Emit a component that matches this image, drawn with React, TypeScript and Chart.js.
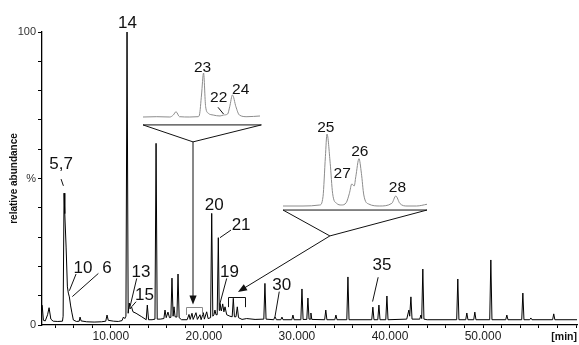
import React, { useEffect, useRef } from 'react';
import { Chart, registerables } from 'chart.js';

Chart.register(...registerables);

// ---------------- DATA ----------------
// x tick labels (retention time, min)
const xTickValues = [10, 20, 30, 40, 50];
const xTickLabels = ['10.000', '20.000', '30.000', '40.000', '50.000'];
// y tick labels
const yTickValues = [0, 50, 100];
const yTickLabels = ['0', '%', '100'];

// main chromatogram: [time (min), relative abundance (%)]
const mainTrace: [number, number][] = [
  [2.62, 6.8], [2.75, 1.6], [2.95, 1.4], [3.2, 3.5], [3.36, 5.9], [3.55, 2.0], [3.8, 1.3],
  [4.3, 1.2], [4.8, 1.3], [4.87, 3.0], [4.97, 45.0], [5.05, 38.0], [5.19, 26.6], [5.33, 13.0],
  [5.43, 10.9], [5.54, 9.6], [5.68, 6.5], [5.8, 4.4], [5.97, 1.7], [6.3, 1.2], [6.6, 1.3],
  [6.69, 2.7], [6.8, 1.4], [7.4, 1.1], [8.2, 1.0], [9.0, 1.1], [9.45, 1.3], [9.59, 3.4],
  [9.72, 1.6], [10.3, 1.3], [10.8, 1.2], [11.2, 1.5], [11.35, 2.7], [11.5, 2.2], [11.62, 3.0],
  [11.74, 100], [11.86, 4.0], [11.98, 7.5], [12.06, 5.5], [12.22, 6.2], [12.38, 4.5],
  [12.71, 4.0], [13.32, 2.8], [13.8, 1.8], [13.92, 6.8], [14.05, 1.8], [14.43, 1.8],
  [14.74, 2.0], [14.86, 62.0], [14.98, 2.0], [15.3, 2.0], [15.7, 2.2], [15.82, 5.1],
  [15.95, 2.5], [16.14, 4.4], [16.3, 2.5], [16.45, 2.6], [16.57, 16.0], [16.69, 3.0],
  [16.79, 6.2], [16.9, 2.8], [17.1, 2.7], [17.22, 17.4], [17.34, 2.5], [17.6, 1.8],
  [18.2, 1.8], [18.4, 3.6], [18.52, 1.9], [18.72, 4.0], [18.85, 1.9], [19.15, 4.2],
  [19.3, 1.9], [19.58, 3.5], [19.7, 1.8], [19.94, 4.2], [20.05, 2.0], [20.3, 4.5],
  [20.45, 2.2], [20.72, 2.5], [20.84, 38.1], [20.96, 3.0], [21.08, 3.5], [21.19, 5.1],
  [21.3, 3.5], [21.43, 3.5], [21.55, 29.8], [21.65, 5.0], [21.73, 7.4], [21.88, 4.8],
  [22.02, 7.2], [22.15, 4.5], [22.27, 6.2], [22.45, 3.5], [22.8, 3.0], [23.04, 2.8],
  [23.16, 9.1], [23.28, 2.8], [23.45, 2.8], [23.59, 6.2], [23.72, 2.5], [24.1, 1.9],
  [24.6, 2.2], [25.5, 1.9], [26.44, 2.0], [26.56, 14.2], [26.68, 2.0], [27.5, 1.8],
  [27.64, 2.8], [27.8, 1.8], [28.27, 1.8], [28.39, 2.7], [28.51, 1.8], [29.45, 1.8],
  [29.57, 3.4], [29.69, 1.8], [30.42, 1.8], [30.54, 12.3], [30.66, 1.9], [31.06, 1.9],
  [31.18, 9.2], [31.3, 2.0], [31.42, 2.0], [31.5, 4.1], [31.6, 1.9], [32.98, 1.8],
  [33.1, 5.1], [33.22, 1.8], [34.07, 1.8], [34.19, 3.4], [34.31, 1.8], [35.36, 1.8],
  [35.48, 16.4], [35.6, 1.8], [38.04, 1.8], [38.16, 6.1], [38.28, 1.8], [38.69, 1.8],
  [38.81, 6.8], [38.93, 1.8], [39.55, 1.8], [39.67, 9.9], [39.79, 1.8], [41.8, 2.0],
  [42.03, 5.1], [42.12, 3.0], [42.25, 9.6], [42.37, 2.0], [43.2, 2.0], [43.32, 3.4],
  [43.41, 2.2], [43.53, 19.1], [43.65, 2.0], [44.0, 1.8], [47.17, 1.8], [47.29, 15.7],
  [47.41, 1.8], [48.14, 1.8], [48.26, 4.1], [48.38, 1.8], [49.0, 1.8], [49.12, 4.4],
  [49.24, 1.8], [50.72, 1.8], [50.84, 22.2], [50.96, 1.8], [52.44, 1.8], [52.56, 3.4],
  [52.68, 1.8], [54.16, 1.8], [54.28, 10.9], [54.4, 1.8], [55.02, 1.8], [55.14, 2.4],
  [55.26, 1.8], [57.48, 1.8], [57.6, 3.8], [57.72, 1.8], [60.1, 1.8],
];

// inset 1 (magnified 18.1-19.8 min), abundance relative to peak 23
const inset1Trace: [number, number][] = [
  [18.1, 0], [18.3, 0.7], [18.49, 0], [18.54, 4.5], [18.58, 12], [18.63, 0.7], [18.78, 0],
  [18.9, 0.7], [18.92, 4.5], [18.95, 50], [18.98, 100], [19.01, 23.4], [19.05, 8.4],
  [19.12, 4.5], [19.22, 2.3], [19.27, 4.5], [19.33, 6.8], [19.36, 23.4], [19.4, 50],
  [19.45, 23.4], [19.5, 4.5], [19.61, 0.7], [19.8, 2.3],
];

// inset 2 (magnified 22.6-24.4 min), abundance relative to peak 25
const inset2Trace: [number, number][] = [
  [22.6, 0], [22.85, 0], [23.06, 1.4], [23.1, 12.9], [23.13, 68.5], [23.15, 100],
  [23.19, 59.3], [23.22, 17.6], [23.27, 3.7], [23.33, 1.4], [23.39, 4.6], [23.43, 17.6],
  [23.46, 30.6], [23.49, 27.8], [23.51, 40.7], [23.55, 65.7], [23.58, 45.4], [23.61, 15.3],
  [23.67, 2.8], [23.81, 0], [23.96, 3.7], [24.01, 13.9], [24.06, 3.7], [24.15, 0],
  [24.27, 0], [24.4, 2.4],
];

// ---------------- LAYOUT ----------------
const AREA = { left: 42, right: 577, top: 32, bottom: 325 };
const X_MIN = 2.6;
const X_MAX = 60.1;
const FONT = "'Liberation Sans', Arial, sans-serif";

// inset boxes: data (t0,t1,v0,v1) shown at pixels (px0,px1,py0,py1)
const INSET1 = { t0: 18.1, t1: 19.8, px0: 143, px1: 260, v0: 0, v1: 100, py0: 117, py1: 73 };
const INSET2 = { t0: 22.6, t1: 24.4, px0: 283, px1: 427, v0: 0, v1: 100, py0: 206, py1: 134 };

function xRange(b: typeof INSET1) {
  const per = (b.t1 - b.t0) / (b.px1 - b.px0);
  return { min: b.t0 - (b.px0 - AREA.left) * per, max: b.t0 + (AREA.right - b.px0) * per };
}
function yRange(b: typeof INSET1) {
  const per = (b.v1 - b.v0) / (b.py0 - b.py1);
  return { min: b.v0 - (AREA.bottom - b.py0) * per, max: b.v0 + (b.py0 - AREA.top) * per };
}

type Pt = [number, number];
interface Lbl { text: string; t: number; v: number; leader?: [Pt, Pt] }

const mainLabels: Lbl[] = [
  { text: '14', t: 11.79, v: 101.4 },
  { text: '5,7', t: 4.65, v: 53.4, leader: [[4.65, 49.8], [4.9, 47.5]] },
  { text: '10', t: 7.0, v: 17.7, leader: [[6.26, 17.4], [5.54, 11.7]] },
  { text: '6', t: 9.59, v: 17.7, leader: [[8.66, 17.6], [5.86, 9.7]] },
  { text: '13', t: 13.24, v: 16.5, leader: [[12.78, 15.9], [12.06, 6.25]] },
  { text: '15', t: 13.62, v: 8.5, leader: [[12.71, 7.95], [12.24, 6.25]] },
  { text: '20', t: 21.1, v: 39.2 },
  { text: '21', t: 24.0, v: 32.4, leader: [[22.91, 32.4], [21.73, 29.8]] },
  { text: '19', t: 22.75, v: 16.5, leader: [[22.45, 15.9], [21.73, 7.4]] },
  { text: '30', t: 28.36, v: 11.9, leader: [[28.1, 11.4], [27.64, 2.8]] },
  { text: '35', t: 39.13, v: 18.9, leader: [[38.73, 16.3], [38.13, 8.0]] },
];
const inset1Labels: Lbl[] = [
  { text: '23', t: 18.965, v: 103 },
  { text: '22', t: 19.2, v: 34.8, leader: [[19.19, 22], [19.27, 6.8]] },
  { text: '24', t: 19.52, v: 52.3 },
];
const inset2Labels: Lbl[] = [
  { text: '25', t: 23.135, v: 102.4 },
  { text: '26', t: 23.56, v: 69.4 },
  { text: '27', t: 23.34, v: 38.5 },
  { text: '28', t: 24.03, v: 19.9 },
];

// pointer geometry (main data coords, inset coords for underline)
const POINTERS = {
  underline1: { t0: 18.1, t1: 19.82, v: -18 },
  apex1: [18.83, 62.5] as Pt,
  tip1: [18.83, 7.0] as Pt,
  underline2: { t0: 22.6, t1: 24.4, v: -5.6 },
  apex2: [33.54, 30.4] as Pt,
  tip2: [23.66, 11.3] as Pt,
  bracket1: { t0: 18.08, t1: 19.8, top: 6.1, bottom: 3.4 },
  bracket2: { t0: 22.59, t1: 24.42, top: 9.6, bottom: 6.1 },
};

function drawArrow(ctx: CanvasRenderingContext2D, x0: number, y0: number, x1: number, y1: number) {
  const ang = Math.atan2(y1 - y0, x1 - x0);
  const len = 9, half = 3.6;
  ctx.beginPath();
  ctx.moveTo(x0, y0);
  ctx.lineTo(x1 - Math.cos(ang) * len * 0.6, y1 - Math.sin(ang) * len * 0.6);
  ctx.stroke();
  ctx.beginPath();
  ctx.moveTo(x1, y1);
  ctx.lineTo(x1 - Math.cos(ang) * len - Math.sin(ang) * half, y1 - Math.sin(ang) * len + Math.cos(ang) * half);
  ctx.lineTo(x1 - Math.cos(ang) * len + Math.sin(ang) * half, y1 - Math.sin(ang) * len - Math.cos(ang) * half);
  ctx.closePath();
  ctx.fill();
}

const annotationPlugin = {
  id: 'chromAnnotations',
  afterDatasetsDraw(chart: any) {
    const { ctx, scales } = chart;
    const mx = (t: number) => scales.x.getPixelForValue(t);
    const my = (v: number) => scales.y.getPixelForValue(v);
    const i1x = (t: number) => scales.xi1.getPixelForValue(t);
    const i1y = (v: number) => scales.yi1.getPixelForValue(v);
    const i2x = (t: number) => scales.xi2.getPixelForValue(t);
    const i2y = (v: number) => scales.yi2.getPixelForValue(v);
    ctx.save();
    ctx.lineWidth = 1;
    ctx.strokeStyle = '#111';
    ctx.fillStyle = '#111';

    const P = POINTERS;
    // inset 1 underline + funnel
    const u1a = [i1x(P.underline1.t0), i1y(P.underline1.v)];
    const u1b = [i1x(P.underline1.t1), i1y(P.underline1.v)];
    const a1 = [mx(P.apex1[0]), my(P.apex1[1])];
    ctx.beginPath();
    ctx.moveTo(u1a[0], u1a[1]);
    ctx.lineTo(u1b[0], u1b[1]);
    ctx.lineTo(a1[0], a1[1]);
    ctx.lineTo(u1a[0], u1a[1]);
    ctx.stroke();
    drawArrow(ctx, a1[0], a1[1], mx(P.tip1[0]), my(P.tip1[1]));

    // inset 2 underline + funnel
    const u2a = [i2x(P.underline2.t0), i2y(P.underline2.v)];
    const u2b = [i2x(P.underline2.t1), i2y(P.underline2.v)];
    const a2 = [mx(P.apex2[0]), my(P.apex2[1])];
    ctx.beginPath();
    ctx.moveTo(u2a[0], u2a[1]);
    ctx.lineTo(u2b[0], u2b[1]);
    ctx.lineTo(a2[0], a2[1]);
    ctx.lineTo(u2a[0], u2a[1]);
    ctx.stroke();
    drawArrow(ctx, a2[0], a2[1], mx(P.tip2[0]), my(P.tip2[1]));

    // brackets
    const br = (b: typeof P.bracket1, color: string) => {
      ctx.strokeStyle = color;
      ctx.beginPath();
      ctx.moveTo(Math.round(mx(b.t0)) + 0.5, my(b.bottom));
      ctx.lineTo(Math.round(mx(b.t0)) + 0.5, Math.round(my(b.top)) + 0.5);
      ctx.lineTo(Math.round(mx(b.t1)) + 0.5, Math.round(my(b.top)) + 0.5);
      ctx.lineTo(Math.round(mx(b.t1)) + 0.5, my(b.bottom));
      ctx.stroke();
    };
    br(P.bracket1, '#8a8a8a');
    br(P.bracket2, '#111');

    // labels
    const drawLabels = (list: Lbl[], fx: (t: number) => number, fy: (v: number) => number, size: number) => {
      ctx.font = `${size}px ${FONT}`;
      ctx.textAlign = 'center';
      ctx.textBaseline = 'alphabetic';
      ctx.fillStyle = '#111';
      ctx.strokeStyle = '#111';
      for (const l of list) {
        ctx.fillText(l.text, fx(l.t), fy(l.v));
        if (l.leader) {
          ctx.beginPath();
          ctx.moveTo(fx(l.leader[0][0]), fy(l.leader[0][1]));
          ctx.lineTo(fx(l.leader[1][0]), fy(l.leader[1][1]));
          ctx.stroke();
        }
      }
    };
    drawLabels(mainLabels, mx, my, 17);
    drawLabels(inset1Labels, i1x, i1y, 15.5);
    drawLabels(inset2Labels, i2x, i2y, 15.5);
    ctx.restore();
  },
};

export default function App() {
  const ref = useRef<HTMLCanvasElement>(null);
  useEffect(() => {
    if (!ref.current) return;
    const r1x = xRange(INSET1), r1y = yRange(INSET1);
    const r2x = xRange(INSET2), r2y = yRange(INSET2);
    const hidden = (min: number, max: number, position: string) => ({
      type: 'linear', display: false, min, max, position,
    });
    const chart = new Chart(ref.current, {
      type: 'line',
      data: {
        datasets: [
          {
            data: mainTrace.map(([x, y]) => ({ x, y })),
            borderColor: '#000', borderWidth: 1, pointRadius: 0, tension: 0,
            xAxisID: 'x', yAxisID: 'y',
          },
          {
            data: inset1Trace.map(([x, y]) => ({ x, y })),
            borderColor: '#8c8c8c', borderWidth: 1, pointRadius: 0,
            cubicInterpolationMode: 'monotone', xAxisID: 'xi1', yAxisID: 'yi1',
          },
          {
            data: inset2Trace.map(([x, y]) => ({ x, y })),
            borderColor: '#8c8c8c', borderWidth: 1, pointRadius: 0,
            cubicInterpolationMode: 'monotone', xAxisID: 'xi2', yAxisID: 'yi2',
          },
        ],
      } as any,
      options: {
        responsive: false,
        maintainAspectRatio: false,
        animation: false,
        events: [],
        layout: { padding: { left: 0, right: 579 - AREA.right, top: AREA.top, bottom: 0 } },
        plugins: { legend: { display: false }, tooltip: { enabled: false }, title: { display: false } },
        scales: {
          x: {
            type: 'linear', position: 'bottom', min: X_MIN, max: X_MAX,
            afterFit: (s: any) => { s.height = 345 - AREA.bottom; },
            grid: { display: true, drawOnChartArea: false, drawTicks: true, tickLength: 3, color: '#000' },
            border: { display: true, color: '#000', width: 1.3 },
            ticks: {
              stepSize: 2, includeBounds: false, autoSkip: false, maxRotation: 0, padding: 1,
              color: '#222', font: { family: FONT, size: 12 },
              callback: (v: any) => {
                const i = xTickValues.indexOf(Number(v));
                return i >= 0 ? xTickLabels[i] : '';
              },
            },
            title: {
              display: true, text: '[min]', align: 'end', color: '#111',
              font: { family: FONT, size: 10.5, weight: 'bold' }, padding: { top: 0, bottom: 2 },
            },
          },
          y: {
            type: 'linear', position: 'left', min: 0, max: 100,
            afterFit: (s: any) => { s.width = AREA.left; },
            grid: { display: true, drawOnChartArea: false, drawTicks: true, tickLength: 4, color: '#000' },
            border: { display: true, color: '#000', width: 1.3 },
            ticks: {
              stepSize: 10, padding: 2, color: '#333', font: { family: FONT, size: 11 },
              callback: (v: any) => {
                const i = yTickValues.indexOf(Number(v));
                return i >= 0 ? yTickLabels[i] : '';
              },
            },
            title: {
              display: true, text: 'relative abundance', align: 'center', color: '#111',
              font: { family: FONT, size: 10, weight: 'bold' }, padding: { top: 8, bottom: 0 },
            },
          },
          xi1: hidden(r1x.min, r1x.max, 'bottom'),
          yi1: hidden(r1y.min, r1y.max, 'left'),
          xi2: hidden(r2x.min, r2x.max, 'bottom'),
          yi2: hidden(r2y.min, r2y.max, 'left'),
        },
      } as any,
      plugins: [annotationPlugin],
    });
    return () => chart.destroy();
  }, []);
  return (
    <div style={{ position: 'fixed', left: 0, top: 0, width: 579, height: 345, background: '#fff' }}>
      <canvas ref={ref} width={579} height={345} style={{ display: 'block', width: 579, height: 345 }} />
    </div>
  );
}
